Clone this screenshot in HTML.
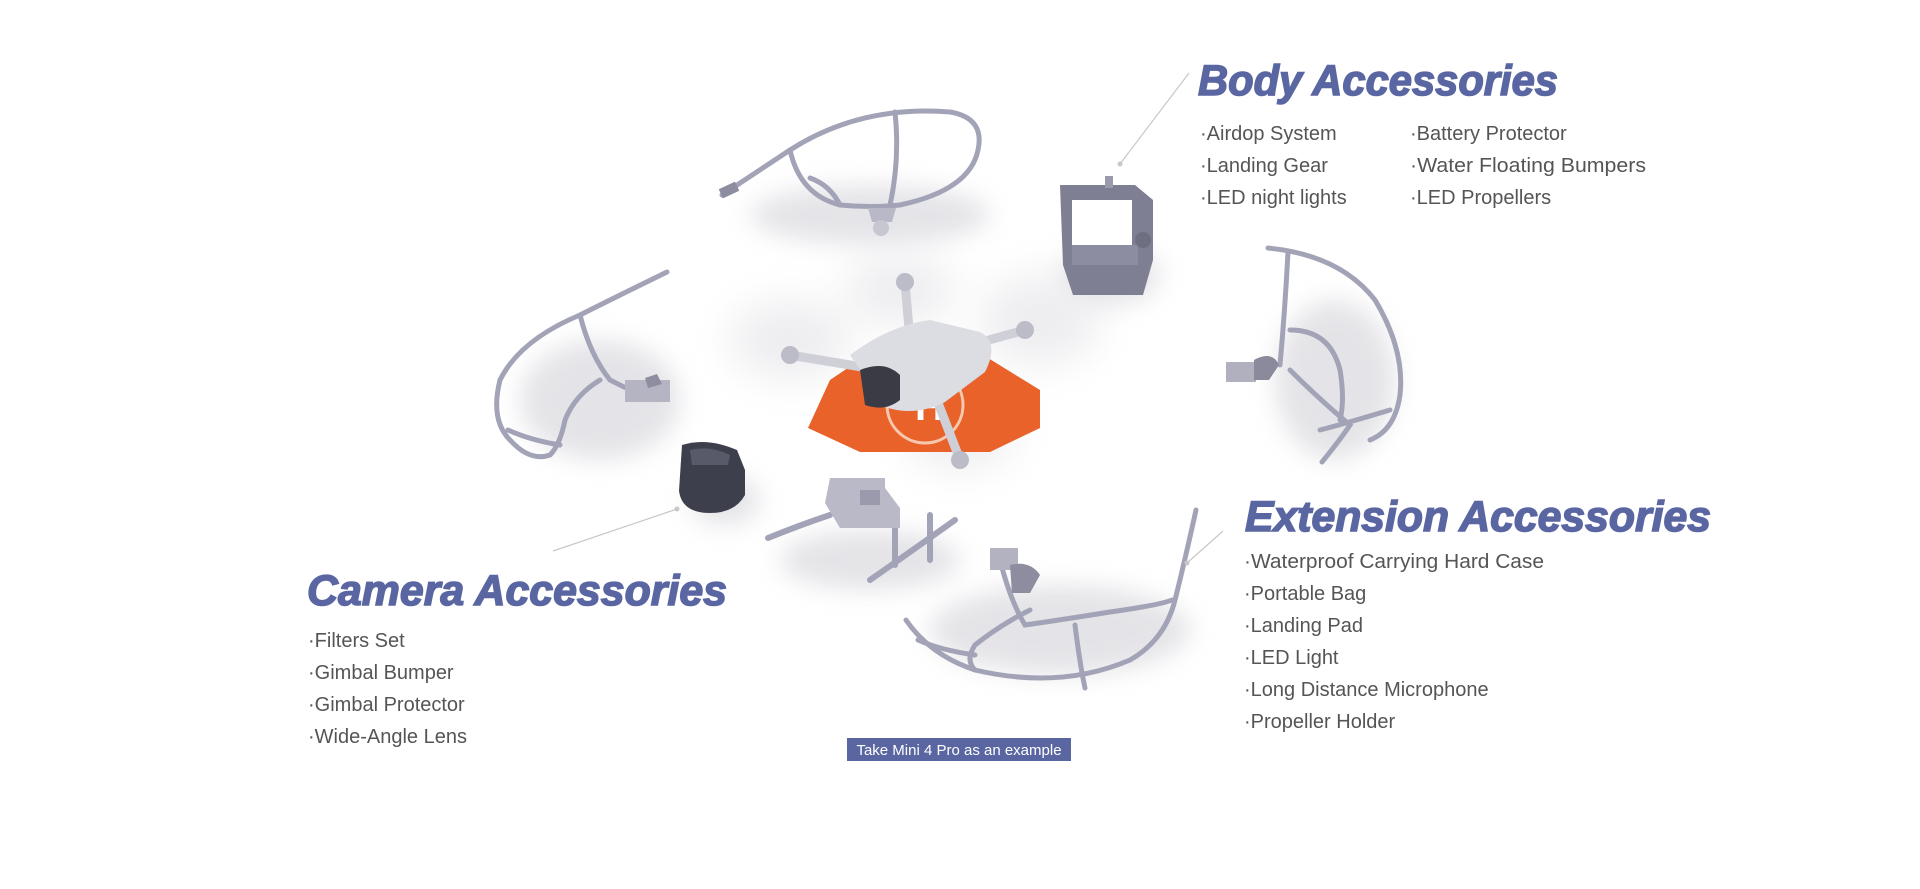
<!DOCTYPE html>
<html><head><meta charset="utf-8"><style>
html,body{margin:0;padding:0;background:#fff;}
svg{display:block;}
</style></head><body>
<svg width="1920" height="889" viewBox="0 0 1920 889" xmlns="http://www.w3.org/2000/svg">
<defs>
<filter id="bl" x="-50%" y="-50%" width="200%" height="200%"><feGaussianBlur stdDeviation="12"/></filter>
<filter id="bl2" x="-50%" y="-50%" width="200%" height="200%"><feGaussianBlur stdDeviation="20"/></filter>
</defs>
<rect width="1920" height="889" fill="#fff"/>

<g fill="#cfcfd6" opacity="0.55" filter="url(#bl)">
<ellipse cx="870" cy="215" rx="120" ry="30"/>
<ellipse cx="600" cy="400" rx="80" ry="60"/>
<ellipse cx="1335" cy="380" rx="60" ry="80"/>
<ellipse cx="1060" cy="630" rx="130" ry="45"/>
<ellipse cx="1110" cy="275" rx="50" ry="30"/>
<ellipse cx="725" cy="500" rx="35" ry="25"/>
<ellipse cx="870" cy="560" rx="90" ry="30"/>
</g>
<g fill="#e2e2e6" opacity="0.6" filter="url(#bl2)">
<ellipse cx="790" cy="340" rx="60" ry="40"/>
<ellipse cx="900" cy="290" rx="55" ry="35"/>
<ellipse cx="1040" cy="320" rx="60" ry="45"/>
<ellipse cx="960" cy="430" rx="55" ry="40"/>
</g>

<g fill="none" stroke="#a3a3b7" stroke-width="5" stroke-linecap="round">
<path d="M722 195 Q760 170 790 150 Q860 105 950 112 Q985 118 978 150 Q970 190 900 205"/>
<path d="M790 150 Q800 195 840 205 Q870 208 900 205"/>
<path d="M895 112 Q900 160 890 205"/>
<path d="M840 205 Q830 185 810 178"/>
</g>
<rect x="720" y="185" width="18" height="10" fill="#8d8da0" transform="rotate(-25 729 190)"/>
<path d="M868 208 h28 l-4 14 h-20z" fill="#b8b8c6"/>
<ellipse cx="881" cy="228" rx="8" ry="8" fill="#c7c7d2"/>

<g fill="none" stroke="#a3a3b7" stroke-width="5" stroke-linecap="round">
<path d="M667 272 Q620 295 580 315 Q520 340 500 380 Q490 420 510 440 Q530 462 550 455"/>
<path d="M580 315 Q590 355 610 380 Q640 395 632 390"/>
<path d="M600 380 Q575 395 565 420 Q560 445 550 455"/>
<path d="M508 430 Q530 440 560 445"/>
</g>
<path d="M625 380 h45 v22 h-45z" fill="#b4b4c3"/>
<path d="M645 378 l12 -4 l5 10 l-14 4z" fill="#8e8ea0"/>

<g fill="none" stroke="#a3a3b7" stroke-width="5" stroke-linecap="round">
<path d="M1268 248 Q1340 255 1375 300 Q1405 350 1400 395 Q1395 430 1370 440"/>
<path d="M1288 252 Q1285 310 1280 365"/>
<path d="M1290 330 Q1330 330 1340 370 Q1345 400 1340 420"/>
<path d="M1320 430 Q1340 425 1390 410"/>
<path d="M1290 370 Q1320 400 1350 425 Q1340 440 1322 462"/>
</g>
<path d="M1226 362 h30 v20 h-30z" fill="#b0b0bf"/>
<path d="M1254 360 q18 -10 25 5 l-10 15 h-15z" fill="#8a8a9c"/>

<g fill="none" stroke="#a3a3b7" stroke-width="5" stroke-linecap="round">
<path d="M906 620 Q930 655 975 670 Q1060 690 1130 660 Q1165 640 1175 600 Q1185 560 1196 510"/>
<path d="M1000 560 Q1010 600 1025 625 Q1060 620 1110 612 Q1160 605 1172 600"/>
<path d="M1030 610 Q1000 625 975 645 Q965 660 975 670"/>
<path d="M1075 625 Q1080 665 1085 688"/>
<path d="M918 640 Q940 650 975 655"/>
</g>
<path d="M990 548 h28 v22 h-28z" fill="#b2b2c1"/>
<path d="M1010 565 q20 -5 30 10 l-10 18 h-18z" fill="#8d8d9f"/>

<path d="M1060 185 h75 l18 15 v60 l-10 35 h-70 l-10 -30 z" fill="#7f7f93"/>
<path d="M1072 200 h60 v50 h-60z" fill="#fff"/>
<path d="M1072 245 h66 v20 h-66z" fill="#8d8da1"/>
<rect x="1105" y="176" width="8" height="12" fill="#9a9aac"/>
<circle cx="1143" cy="240" r="8" fill="#6f6f82"/>

<path d="M682 445 q25 -8 55 5 l8 20 v25 q-10 18 -35 18 q-28 0 -31 -22 z" fill="#3e3f4d"/>
<path d="M690 450 q20 -5 40 5 l-2 10 h-36z" fill="#585a6a"/>

<g fill="none" stroke="#a3a3b7" stroke-width="6" stroke-linecap="round">
<path d="M768 538 Q800 525 830 515"/>
<path d="M870 580 Q920 545 955 520"/>
<path d="M895 520 v45 M930 515 v45"/>
</g>
<path d="M830 478 h55 v10 l15 20 v20 h-60 l-15 -25z" fill="#b9b9c7"/>
<path d="M860 490 h20 v15 h-20z" fill="#9a9aac"/>

<polygon points="870,353 980,353 1040,390 1040,428 990,452 860,452 808,428 830,380" fill="#e8622a"/>
<circle cx="925" cy="405" r="38" fill="none" stroke="#f7c7ae" stroke-width="3"/>
<text x="915" y="420" font-family="Liberation Sans, sans-serif" font-size="40" font-weight="bold" fill="#fff">H</text>

<g stroke="#cfcfd8" stroke-width="9" stroke-linecap="round">
<line x1="880" y1="370" x2="790" y2="355"/>
<line x1="935" y1="355" x2="1025" y2="330"/>
<line x1="910" y1="340" x2="905" y2="282"/>
<line x1="935" y1="395" x2="960" y2="460"/>
</g>
<path d="M850 355 q40 -30 80 -35 l50 12 q20 10 5 40 l-40 30 q-30 15 -60 5 z" fill="#dcdce3"/>
<path d="M860 370 q25 -10 40 5 v25 q-15 12 -35 5 z" fill="#3a3b45"/>
<g fill="#bcbcc8"><circle cx="790" cy="355" r="9"/><circle cx="1025" cy="330" r="9"/><circle cx="905" cy="282" r="9"/><circle cx="960" cy="460" r="9"/></g>

<g stroke="#c8c8c8" stroke-width="1.2">
<line x1="1189" y1="73" x2="1120" y2="164"/>
<line x1="553" y1="551" x2="677" y2="509"/>
<line x1="1223" y1="531" x2="1187" y2="563"/>
</g>
<g fill="#c8c8c8"><circle cx="1120" cy="164" r="2.5"/><circle cx="677" cy="509" r="2.5"/><circle cx="1187" cy="563" r="2.5"/></g>

<g font-family="Liberation Sans, sans-serif" font-weight="bold" font-style="italic" font-size="43" fill="#5a66a2" stroke="#5a66a2" stroke-width="1.5">
<text x="1198" y="95" textLength="360" lengthAdjust="spacingAndGlyphs">Body Accessories</text>
<text x="307" y="605" textLength="420" lengthAdjust="spacingAndGlyphs">Camera Accessories</text>
<text x="1245" y="531" textLength="466" lengthAdjust="spacingAndGlyphs">Extension Accessories</text>
</g>
<g font-family="Liberation Sans, sans-serif" font-size="20" fill="#555">
<text x="1200" y="140">·Airdop System</text>
<text x="1200" y="172">·Landing Gear</text>
<text x="1200" y="204">·LED night lights</text>
<text x="1410" y="140">·Battery Protector</text>
<text x="1410" y="172" textLength="236" lengthAdjust="spacingAndGlyphs">·Water Floating Bumpers</text>
<text x="1410" y="204">·LED Propellers</text>
<text x="308" y="647">·Filters Set</text>
<text x="308" y="679">·Gimbal Bumper</text>
<text x="308" y="711">·Gimbal Protector</text>
<text x="308" y="743">·Wide-Angle Lens</text>
<text x="1244" y="568" textLength="300" lengthAdjust="spacingAndGlyphs">·Waterproof Carrying Hard Case</text>
<text x="1244" y="600">·Portable Bag</text>
<text x="1244" y="632">·Landing Pad</text>
<text x="1244" y="664">·LED Light</text>
<text x="1244" y="696">·Long Distance Microphone</text>
<text x="1244" y="728">·Propeller Holder</text>
</g>
<rect x="847" y="738" width="224" height="23" fill="#5a66a2"/>
<text x="959" y="755" text-anchor="middle" font-family="Liberation Sans, sans-serif" font-size="15" fill="#fff">Take Mini 4 Pro as an example</text>
</svg>
</body></html>
